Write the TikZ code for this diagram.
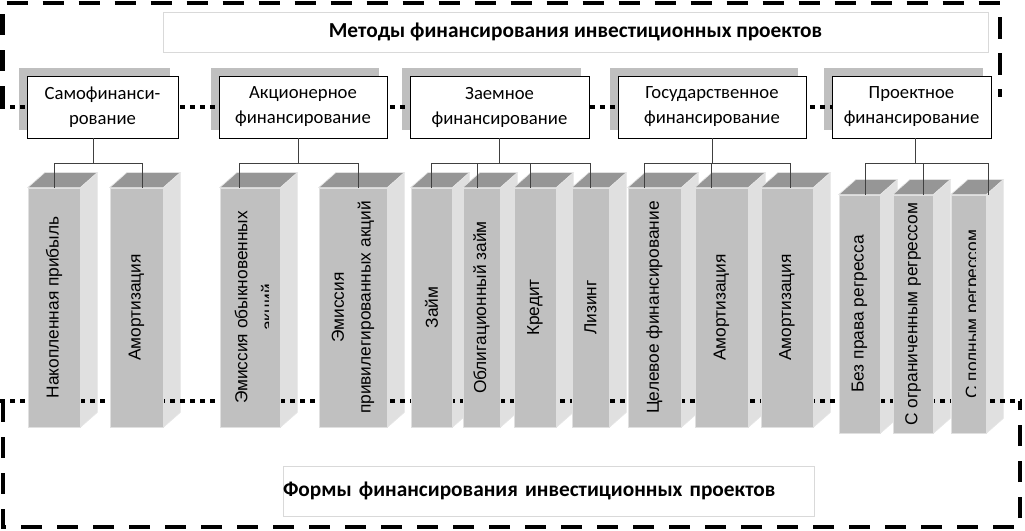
\documentclass[tikz,border=0pt]{standalone}
\usepackage{fontspec}
\setmainfont{Carlito}
\newfontfamily\pillarfont{Liberation Sans}
\usetikzlibrary{calc}
\definecolor{facegray}{HTML}{C0C0C0}
\definecolor{topgray}{HTML}{969696}
\definecolor{sidegray}{HTML}{E0E0E0}
\definecolor{shadegray}{HTML}{BFBFBF}
\definecolor{wiregray}{HTML}{404040}
\pgfdeclarelayer{back}
\pgfdeclarelayer{mid}
\pgfsetlayers{back,mid,main}
\tikzstyle{caption} = [rectangle, draw=black!15, fill=white, font=\bfseries\fontsize{16}{19}\selectfont, inner sep=0pt]
\tikzstyle{method} = [rectangle, draw=black, fill=white, text centered, align=center, font=\fontsize{14}{18.75}\selectfont, minimum height=46.5pt, inner sep=0pt, line width=0.6pt]
\tikzstyle{pillar} = [rectangle, fill=facegray, draw=black!12, line width=0.5pt, inner sep=0pt, minimum height=179.25pt]
\tikzstyle{pillartext} = [rotate=90, align=center, font=\pillarfont\fontsize{13}{20}\selectfont, inner sep=0pt]
\tikzstyle{wire} = [draw=wiregray, line width=0.75pt]
\tikzstyle{dashline} = [line width=3.5pt, dash pattern=on 16pt off 11pt]
\tikzstyle{dotline} = [line width=3.5pt, dash pattern=on 3.5pt off 4pt]
\begin{document}
\begin{tikzpicture}[x=0.75pt, y=-0.75pt]
    \useasboundingbox (0,0) rectangle (1025,531);
    \node (methods) [caption, text centered, minimum width=618.75pt, minimum height=30pt] at (575.5,32) {Методы финансирования инвестиционных проектов};
    \node (forms) [caption, align=left, text width=398.25pt, minimum height=37.5pt] at (548.5,491) {Формы финансирования инвестиционных проектов};
    \node (self) [method, minimum width=113.25pt] at (102.5,107) {Самофинанси-\\рование};
    \node (equity) [method, minimum width=126pt] at (303,107) {Акционерное\\финансирование};
    \node (loan) [method, minimum width=134.25pt] at (499.5,107) {Заемное\\финансирование};
    \node (state) [method, minimum width=141pt] at (712,107) {Государственное\\финансирование};
    \node (project) [method, minimum width=119.25pt] at (911.5,107) {Проектное\\финансирование};
    \node (c1) [pillar, minimum width=39pt] at (54,307.5) {};
    \node (c2) [pillar, minimum width=39.75pt] at (136.5,307.5) {};
    \node (c3) [pillar, minimum width=45pt] at (250,307.5) {};
    \node (c4) [pillar, minimum width=51pt] at (353,307.5) {};
    \node (c5) [pillar, minimum width=30.75pt] at (431.5,307.5) {};
    \node (c6) [pillar, minimum width=27.75pt] at (481.5,307.5) {};
    \node (c7) [pillar, minimum width=31.5pt] at (535,307.5) {};
    \node (c8) [pillar, minimum width=27.75pt] at (590.5,307.5) {};
    \node (c9) [pillar, minimum width=39.75pt] at (654.5,307.5) {};
    \node (c10) [pillar, minimum width=39.75pt] at (721.5,307.5) {};
    \node (c11) [pillar, minimum width=39pt] at (787,307.5) {};
    \node (c12) [pillar, minimum width=30.75pt, minimum height=178.5pt] at (859.5,314) {};
    \node (c13) [pillar, minimum width=30pt, minimum height=178.5pt] at (913,314) {};
    \node (c14) [pillar, minimum width=26.25pt, minimum height=178.5pt] at (968.5,314) {};
    \node (t1) [pillartext] at (c1) {Накопленная прибыль};
    \node (t2) [pillartext] at (c2) {Амортизация};
    \begin{scope}
        \clip (c3.north west) rectangle ($(c3.south east)+(-12,0)$);
        \node (t3) [pillartext] at ($(c3)+(6,0)$) {Эмиссия обыкновенных\\акций};
    \end{scope}
    \node (t4) [pillartext] at (c4) {Эмиссия\\привилегированных акций};
    \node (t5) [pillartext] at (c5) {Займ};
    \node (t6) [pillartext] at (c6) {Облигационный займ};
    \node (t7) [pillartext] at (c7) {Кредит};
    \node (t8) [pillartext] at (c8) {Лизинг};
    \node (t9) [pillartext] at (c9) {Целевое финансирование};
    \node (t10) [pillartext] at (c10) {Амортизация};
    \node (t11) [pillartext] at (c11) {Амортизация};
    \node (t12) [pillartext] at (c12) {Без права регресса};
    \node (t13) [pillartext] at (c13) {С ограниченным регрессом};
    \begin{scope}
        \clip (c14.north west) rectangle ($(c14.south east)+(-11,0)$);
        \node (t14) [pillartext] at ($(c14)+(5,0)$) {С полным регрессом};
    \end{scope}
    \draw [wire] ($(self.south)+(-9,0)$) -- ++(0,25) -| (c1.north);
    \draw [wire] ($(self.south)+(-9,0)$) -- ++(0,25) -| ($(c2.north)+(6,0)$);
    \draw [wire] ($(equity.south)+(-5,0)$) -- ++(0,25) -| ($(c3.north)+(-11,0)$);
    \draw [wire] ($(equity.south)+(-5,0)$) -- ++(0,25) -| ($(c4.north)+(5,0)$);
    \draw [wire] (loan.south) -- ++(0,25) -| (c5.north);
    \draw [wire] (loan.south) -- ++(0,25) -| ($(c6.north)+(-4,0)$);
    \draw [wire] (loan.south) -- ++(0,25) -| ($(c7.north)+(-5,0)$);
    \draw [wire] (loan.south) -- ++(0,25) -| (c8.north);
    \draw [wire] (state.south) -- ++(0,25) -| ($(c9.north)+(-10,0)$);
    \draw [wire] (state.south) -- ++(0,25) -| ($(c10.north)+(-10,0)$);
    \draw [wire] (state.south) -- ++(0,25) -| ($(c11.north)+(3,0)$);
    \draw [wire] ($(project.south)+(4,0)$) -- ++(0,25) -| ($(c12.north)+(6,0)$);
    \draw [wire] ($(project.south)+(4,0)$) -- ++(0,25) -| ($(c13.north)+(10,0)$);
    \draw [wire] ($(project.south)+(4,0)$) -- ++(0,25) -| ($(c14.north)+(20,0)$);
    \begin{pgfonlayer}{back}
        \fill [shadegray] ([shift={(-8,-8)}]self.south west) rectangle ([shift={(-8,-8)}]self.north east);
        \fill [shadegray] ([shift={(-8,-8)}]equity.south west) rectangle ([shift={(-8,-8)}]equity.north east);
        \fill [shadegray] ([shift={(-8,-8)}]loan.south west) rectangle ([shift={(-8,-8)}]loan.north east);
        \fill [shadegray] ([shift={(-8,-8)}]state.south west) rectangle ([shift={(-8,-8)}]state.north east);
        \fill [shadegray] ([shift={(-8,-8)}]project.south west) rectangle ([shift={(-8,-8)}]project.north east);
        \foreach \i in {1,...,14} {
            \filldraw [fill=topgray, draw=black!10, line width=0.5pt] (c\i.north west) -- ++(17,-15) -- ([shift={(17,-15)}]c\i.north east) -- (c\i.north east) -- cycle;
            \filldraw [fill=sidegray, draw=black!10, line width=0.5pt] (c\i.north east) -- ++(17,-15) -- ([shift={(17,-15)}]c\i.south east) -- (c\i.south east) -- cycle;
        }
    \end{pgfonlayer}
    \begin{pgfonlayer}{mid}
        \draw [dotline] (0,107) -- (project.west);
        \draw [dashline] (2.5,107) -- (2.5,3) -- (1000,3) -- (1000,97);
        \draw [dotline] (0,401) -- (1022,401);
        \draw [dashline] (3,401) -- (3,527) -- (1020,527) -- (1020,401);
    \end{pgfonlayer}
\end{tikzpicture}
\end{document}
